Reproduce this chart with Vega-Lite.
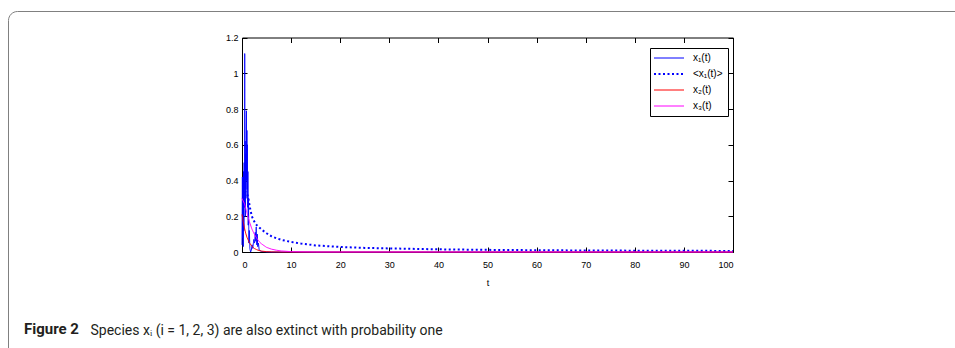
{
  "$schema": "https://vega.github.io/schema/vega-lite/v6.json",
  "width": 962,
  "height": 352,
  "autosize": {"type": "none"},
  "padding": {"left": 8, "top": 11, "right": 0, "bottom": 0},
  "background": "white",
  "config": {
    "view": {"stroke": "#808080", "strokeWidth": 1, "cornerRadius": 9, "fill": "white"},
    "axis": {"grid": false, "domainColor": "#000000", "domainWidth": 1, "tickColor": "#000000", "tickWidth": 1, "tickSize": -5, "labelFont": "Liberation Sans", "labelFontSize": 9, "labelColor": "#000000", "titleFont": "Liberation Sans", "titleFontSize": 9, "titleFontWeight": "normal", "titleColor": "#000000"}
  },
  "title": {
    "text": "Figure 2",
    "orient": "bottom",
    "anchor": "start",
    "frame": "group",
    "offset": 0,
    "dx": 16,
    "dy": -29,
    "baseline": "alphabetic",
    "font": "Roboto",
    "fontSize": 15,
    "fontWeight": "bold",
    "color": "#231f20"
  },
  "data": {
    "values": [
      {"t": 0, "v": 0.04, "s": "x₁(t)"},
      {"t": 0.08, "v": 0.42, "s": "x₁(t)"},
      {"t": 0.14, "v": 0.08, "s": "x₁(t)"},
      {"t": 0.2, "v": 0.32, "s": "x₁(t)"},
      {"t": 0.26, "v": 0.03, "s": "x₁(t)"},
      {"t": 0.32, "v": 0.45, "s": "x₁(t)"},
      {"t": 0.38, "v": 0.12, "s": "x₁(t)"},
      {"t": 0.44, "v": 0.5, "s": "x₁(t)"},
      {"t": 0.5, "v": 0.25, "s": "x₁(t)"},
      {"t": 0.55, "v": 1.11, "s": "x₁(t)"},
      {"t": 0.6, "v": 0.35, "s": "x₁(t)"},
      {"t": 0.65, "v": 0.62, "s": "x₁(t)"},
      {"t": 0.7, "v": 0.2, "s": "x₁(t)"},
      {"t": 0.75, "v": 0.55, "s": "x₁(t)"},
      {"t": 0.8, "v": 0.3, "s": "x₁(t)"},
      {"t": 0.85, "v": 0.7, "s": "x₁(t)"},
      {"t": 0.9, "v": 0.79, "s": "x₁(t)"},
      {"t": 0.95, "v": 0.4, "s": "x₁(t)"},
      {"t": 1.0, "v": 0.68, "s": "x₁(t)"},
      {"t": 1.05, "v": 0.35, "s": "x₁(t)"},
      {"t": 1.1, "v": 0.6, "s": "x₁(t)"},
      {"t": 1.15, "v": 0.25, "s": "x₁(t)"},
      {"t": 1.2, "v": 0.45, "s": "x₁(t)"},
      {"t": 1.27, "v": 0.15, "s": "x₁(t)"},
      {"t": 1.33, "v": 0.3, "s": "x₁(t)"},
      {"t": 1.4, "v": 0.05, "s": "x₁(t)"},
      {"t": 1.5, "v": 0.12, "s": "x₁(t)"},
      {"t": 1.6, "v": 0.02, "s": "x₁(t)"},
      {"t": 1.75, "v": 0.0, "s": "x₁(t)"},
      {"t": 1.9, "v": 0.01, "s": "x₁(t)"},
      {"t": 2.05, "v": 0.04, "s": "x₁(t)"},
      {"t": 2.2, "v": 0.02, "s": "x₁(t)"},
      {"t": 2.4, "v": 0.07, "s": "x₁(t)"},
      {"t": 2.55, "v": 0.05, "s": "x₁(t)"},
      {"t": 2.7, "v": 0.11, "s": "x₁(t)"},
      {"t": 2.8, "v": 0.06, "s": "x₁(t)"},
      {"t": 2.9, "v": 0.14, "s": "x₁(t)"},
      {"t": 3.0, "v": 0.04, "s": "x₁(t)"},
      {"t": 3.1, "v": 0.1, "s": "x₁(t)"},
      {"t": 3.2, "v": 0.03, "s": "x₁(t)"},
      {"t": 3.35, "v": 0.05, "s": "x₁(t)"},
      {"t": 3.5, "v": 0.01, "s": "x₁(t)"},
      {"t": 4, "v": 0.003, "s": "x₁(t)"},
      {"t": 5, "v": 0.001, "s": "x₁(t)"},
      {"t": 6, "v": 0, "s": "x₁(t)"},
      {"t": 100, "v": 0, "s": "x₁(t)"},
      {"t": 0.5, "v": 0.33, "s": "<x₁(t)>"},
      {"t": 0.8, "v": 0.335, "s": "<x₁(t)>"},
      {"t": 1.0, "v": 0.33, "s": "<x₁(t)>"},
      {"t": 1.3, "v": 0.3, "s": "<x₁(t)>"},
      {"t": 1.6, "v": 0.25, "s": "<x₁(t)>"},
      {"t": 2.0, "v": 0.2, "s": "<x₁(t)>"},
      {"t": 2.5, "v": 0.17, "s": "<x₁(t)>"},
      {"t": 3.0, "v": 0.15, "s": "<x₁(t)>"},
      {"t": 4.0, "v": 0.125, "s": "<x₁(t)>"},
      {"t": 5.0, "v": 0.105, "s": "<x₁(t)>"},
      {"t": 6.0, "v": 0.088, "s": "<x₁(t)>"},
      {"t": 7.0, "v": 0.077, "s": "<x₁(t)>"},
      {"t": 8.0, "v": 0.068, "s": "<x₁(t)>"},
      {"t": 10.0, "v": 0.056, "s": "<x₁(t)>"},
      {"t": 12.0, "v": 0.047, "s": "<x₁(t)>"},
      {"t": 15.0, "v": 0.037, "s": "<x₁(t)>"},
      {"t": 20.0, "v": 0.028, "s": "<x₁(t)>"},
      {"t": 25.0, "v": 0.023, "s": "<x₁(t)>"},
      {"t": 30.0, "v": 0.02, "s": "<x₁(t)>"},
      {"t": 40.0, "v": 0.015, "s": "<x₁(t)>"},
      {"t": 50.0, "v": 0.012, "s": "<x₁(t)>"},
      {"t": 60.0, "v": 0.01, "s": "<x₁(t)>"},
      {"t": 70.0, "v": 0.0085, "s": "<x₁(t)>"},
      {"t": 80.0, "v": 0.0075, "s": "<x₁(t)>"},
      {"t": 90.0, "v": 0.0067, "s": "<x₁(t)>"},
      {"t": 100.0, "v": 0.006, "s": "<x₁(t)>"},
      {"t": 0, "v": 0.21, "s": "x₂(t)"},
      {"t": 0.25, "v": 0.17, "s": "x₂(t)"},
      {"t": 0.5, "v": 0.135, "s": "x₂(t)"},
      {"t": 0.75, "v": 0.105, "s": "x₂(t)"},
      {"t": 1.0, "v": 0.083, "s": "x₂(t)"},
      {"t": 1.5, "v": 0.052, "s": "x₂(t)"},
      {"t": 2.0, "v": 0.033, "s": "x₂(t)"},
      {"t": 2.5, "v": 0.02, "s": "x₂(t)"},
      {"t": 3.0, "v": 0.013, "s": "x₂(t)"},
      {"t": 3.5, "v": 0.008, "s": "x₂(t)"},
      {"t": 4.0, "v": 0.005, "s": "x₂(t)"},
      {"t": 5.0, "v": 0.002, "s": "x₂(t)"},
      {"t": 6.0, "v": 0.001, "s": "x₂(t)"},
      {"t": 8.0, "v": 0, "s": "x₂(t)"},
      {"t": 100.0, "v": 0, "s": "x₂(t)"},
      {"t": 0, "v": 0.3, "s": "x₃(t)"},
      {"t": 0.5, "v": 0.27, "s": "x₃(t)"},
      {"t": 1.0, "v": 0.22, "s": "x₃(t)"},
      {"t": 1.5, "v": 0.17, "s": "x₃(t)"},
      {"t": 2.0, "v": 0.13, "s": "x₃(t)"},
      {"t": 2.5, "v": 0.1, "s": "x₃(t)"},
      {"t": 3.0, "v": 0.077, "s": "x₃(t)"},
      {"t": 3.5, "v": 0.058, "s": "x₃(t)"},
      {"t": 4.0, "v": 0.045, "s": "x₃(t)"},
      {"t": 5.0, "v": 0.026, "s": "x₃(t)"},
      {"t": 6.0, "v": 0.016, "s": "x₃(t)"},
      {"t": 7.0, "v": 0.01, "s": "x₃(t)"},
      {"t": 8.0, "v": 0.006, "s": "x₃(t)"},
      {"t": 9.0, "v": 0.004, "s": "x₃(t)"},
      {"t": 10.0, "v": 0.002, "s": "x₃(t)"},
      {"t": 12.0, "v": 0.001, "s": "x₃(t)"},
      {"t": 15.0, "v": 0, "s": "x₃(t)"},
      {"t": 100.0, "v": 0, "s": "x₃(t)"}
    ]
  },
  "layer": [
    {
      "mark": {"type": "line", "clip": false},
      "encoding": {
        "x": {"field": "t", "type": "quantitative",
              "scale": {"domain": [0, 100], "range": [234, 725], "nice": false, "zero": false},
              "axis": {"orient": "bottom", "offset": -111, "values": [0,10,20,30,40,50,60,70,80,90,100], "labelPadding": 13, "title": "t", "titlePadding": 9}},
        "y": {"field": "v", "type": "quantitative",
              "scale": {"domain": [0, 1.2], "range": [241, 26.5], "nice": false},
              "axis": {"orient": "left", "offset": -234, "values": [0,0.2,0.4,0.6,0.8,1,1.2], "format": "~g", "labelPadding": 9, "title": null}},
        "color": {"field": "s", "type": "nominal",
                  "scale": {"domain": ["x₁(t)", "<x₁(t)>", "x₂(t)", "x₃(t)"], "range": ["#0000ff", "#0000ff", "#ff0000", "#ff00ff"]},
                  "legend": {"title": null, "orient": "none", "legendX": 642, "legendY": 37, "strokeColor": "#000000", "fillColor": "#ffffff", "padding": 5, "symbolType": "M-2.5,0H2.5", "symbolSize": 144, "symbolOffset": 9, "labelOffset": 19, "rowPadding": 6, "labelFont": "Liberation Sans", "labelFontSize": 10, "labelColor": "#000000",
                             "encode": {"symbols": {"update": {"strokeWidth": {"signal": "datum.value === '<x₁(t)>' ? 2 : 1"}}}}}},
        "strokeDash": {"field": "s", "type": "nominal",
                  "scale": {"domain": ["x₁(t)", "<x₁(t)>", "x₂(t)", "x₃(t)"], "range": [[1, 0], [2, 2.5], [1, 0], [1, 0]]},
                  "legend": {"title": null, "orient": "none", "legendX": 642, "legendY": 37, "strokeColor": "#000000", "fillColor": "#ffffff", "padding": 5, "symbolType": "M-2.5,0H2.5", "symbolSize": 144, "symbolOffset": 9, "labelOffset": 19, "rowPadding": 6, "labelFont": "Liberation Sans", "labelFontSize": 10, "labelColor": "#000000"}},
        "strokeWidth": {"condition": {"test": "datum.s === '<x₁(t)>'", "value": 2}, "value": 1}
      }
    },
    {
      "mark": {"type": "point", "opacity": 0},
      "encoding": {
        "x": {"field": "t", "type": "quantitative",
              "axis": {"orient": "top", "offset": -26.5, "values": [0,10,20,30,40,50,60,70,80,90,100], "labels": false,
                       "title": "Species xᵢ (i = 1, 2, 3) are also extinct with probability one",
                       "titleX": 82, "titleY": 296.5, "titleAlign": "left", "titleBaseline": "alphabetic", "titleAngle": 0,
                       "titleFont": "Roboto", "titleFontSize": 14, "titleFontWeight": "normal", "titleColor": "#231f20"}},
        "y": {"field": "v", "type": "quantitative",
              "axis": {"orient": "right", "offset": -237, "values": [0,0.2,0.4,0.6,0.8,1,1.2], "labels": false, "title": null}}
      }
    }
  ],
  "resolve": {"axis": {"x": "independent", "y": "independent"}}
}
